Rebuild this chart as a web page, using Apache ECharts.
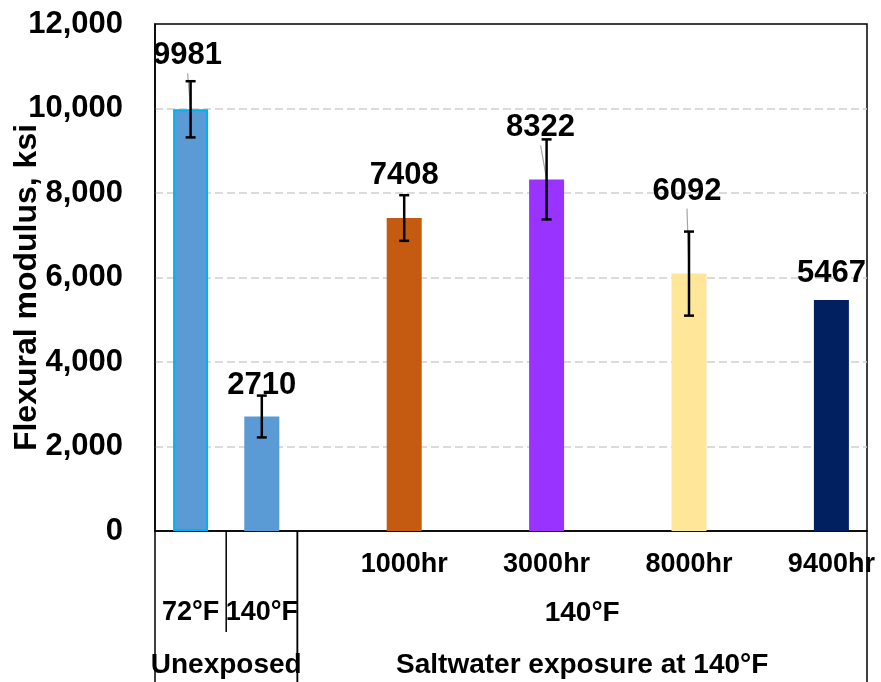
<!DOCTYPE html>
<html><head><meta charset="utf-8">
<script src="https://cdn.jsdelivr.net/npm/echarts@6/dist/echarts.min.js"></script>
<style>html,body{margin:0;padding:0;background:#fff}#c{width:881px;height:682px}</style>
</head><body><div id="c"></div>
<script>
// ---- data ----
const categories = ['72°F', '140°F', '', '1000hr', '', '3000hr', '', '8000hr', '', '9400hr'];
const modulusValues = [9981, 2710, null, 7408, null, 8322, null, 6092, null, 5467];
const errorValues = [665, 495, null, 540, null, 947, null, 995, null, null];
const groupNames = ['Unexposed', 'Saltwater exposure at 140°F'];
const groupSpans = [[0, 1], [2, 9]];
const subGroupNames = ['', '140°F'];
const yAxisTitle = 'Flexural modulus, ksi';
const yMin = 0, yMax = 12000, yStep = 2000;

// ---- styles ----
const FONT = '"Liberation Sans", Arial, sans-serif';
const barColors = ['#5B9BD5', '#5B9BD5', null, '#C55A11', null, '#9933FF', null, '#FFE699', null, '#002060'];
const barBorders = ['#00B0F0', null, null, null, null, null, null, null, null, null];
const labelOffsets = [[-3, -38], [0, -16], null, [0, -27], null, [-6, -36], null, [-2, -67], null, [0, -11]];
const leaderShown = [true, false, false, false, false, true, false, true, false, false];
const LABEL_SIZE = 31;

function groupOf(i) {
  for (let g = 0; g < groupSpans.length; g++) if (i >= groupSpans[g][0] && i <= groupSpans[g][1]) return g;
  return -1;
}

const chart = echarts.init(document.getElementById('c'), null, {renderer: 'canvas'});

const barData = modulusValues.map((v, i) => v == null ? '-' : {
  value: v,
  itemStyle: {color: barColors[i], borderColor: barBorders[i] || barColors[i], borderWidth: barBorders[i] ? 2 : 0},
  label: {offset: labelOffsets[i]}
});

const errData = [];
errorValues.forEach((e, i) => { if (e != null && modulusValues[i] != null) errData.push([i, modulusValues[i], e]); });
const leaderData = [];
modulusValues.forEach((v, i) => { if (v != null && leaderShown[i]) leaderData.push([i, v, labelOffsets[i][0], labelOffsets[i][1]]); });

chart.setOption({
  animation: false,
  backgroundColor: '#fff',
  grid: {left: 155, right: 14, top: 24, bottom: 151, outerBoundsMode: 'none', containLabel: false,
    show: true, borderColor: '#000', borderWidth: 1.5, backgroundColor: 'transparent'},
  xAxis: {
    type: 'category',
    data: categories,
    axisLine: {lineStyle: {color: '#000', width: 1.5}},
    axisTick: {show: false},
    splitLine: {show: false},
    axisLabel: {
      interval: 0, margin: 10, lineHeight: 48,
      fontFamily: FONT, fontSize: 27, fontWeight: 'bold', color: '#000',
      formatter: (val, idx) => subGroupNames[groupOf(idx)] === '' ? '\n' + val : val
    }
  },
  yAxis: {
    type: 'value', min: yMin, max: yMax, interval: yStep,
    name: yAxisTitle, nameLocation: 'middle', nameGap: 112, nameRotate: 90, nameMoveOverlap: false,
    nameTextStyle: {fontFamily: FONT, fontSize: 32, fontWeight: 'bold', color: '#000', padding: [0, 20, 0, 0]},
    axisLine: {show: true, lineStyle: {color: '#000', width: 1.5}},
    axisTick: {show: false},
    axisLabel: {margin: 32, fontFamily: FONT, fontSize: 31, fontWeight: 'bold', color: '#000',
      formatter: v => v.toLocaleString('en-US')},
    splitLine: {show: true, showMinLine: false, showMaxLine: false, lineStyle: {color: '#d0d0d0', width: 1.5, type: [8, 4]}}
  },
  series: [
    {
      type: 'bar', data: barData, barWidth: 35,
      label: {show: true, position: 'top', distance: 0, fontFamily: FONT, fontSize: LABEL_SIZE, fontWeight: 'bold', color: '#000'},
      z: 2
    },
    {
      type: 'custom', data: leaderData, encode: {x: 0, y: 1}, z: 3, silent: true,
      renderItem: function (params, api) {
        const p = api.coord([api.value(0), api.value(1)]);
        const dx = api.value(2), dy = api.value(3);
        return {type: 'line', shape: {x1: p[0] + dx, y1: p[1] + dy + 2, x2: p[0], y2: p[1]},
          style: {stroke: '#a6a6a6', lineWidth: 1.2}};
      }
    },
    {
      type: 'custom', data: errData, encode: {x: 0, y: 1}, z: 5,
      renderItem: function (params, api) {
        const x = api.value(0), v = api.value(1), e = api.value(2);
        const t = api.coord([x, v + e]), b = api.coord([x, v - e]);
        const cw = 5, st = {stroke: '#000', lineWidth: 2.5};
        return {type: 'group', children: [
          {type: 'line', shape: {x1: t[0], y1: t[1], x2: b[0], y2: b[1]}, style: st},
          {type: 'line', shape: {x1: t[0] - cw, y1: t[1], x2: t[0] + cw, y2: t[1]}, style: st},
          {type: 'line', shape: {x1: b[0] - cw, y1: b[1], x2: b[0] + cw, y2: b[1]}, style: st}
        ]};
      }
    }
  ]
});

// ---- multi-level category decoration, positioned from the axis scales ----
const px = i => chart.convertToPixel({xAxisIndex: 0}, i);
const axisY = chart.convertToPixel({yAxisIndex: 0}, 0);
const band = px(1) - px(0);
const H = chart.getHeight();
const lineStyle = {stroke: '#000', lineWidth: 1.5};
const elements = [];
groupSpans.forEach((span, g) => {
  const left = px(span[0]) - band / 2, right = px(span[1]) + band / 2;
  elements.push({type: 'line', shape: {x1: left, y1: axisY, x2: left, y2: H}, style: lineStyle});
  elements.push({type: 'line', shape: {x1: right, y1: axisY, x2: right, y2: H}, style: lineStyle});
  if (subGroupNames[g] === '') {
    for (let i = span[0]; i < span[1]; i++) {
      const xb = (px(i) + px(i + 1)) / 2;
      elements.push({type: 'line', shape: {x1: xb, y1: axisY, x2: xb, y2: axisY + 101}, style: lineStyle});
    }
  } else {
    elements.push({type: 'text', x: (px(span[0]) + px(span[1])) / 2, y: axisY + 82,
      style: {text: subGroupNames[g], align: 'center', verticalAlign: 'middle', font: 'bold 28px ' + FONT, fill: '#000'}});
  }
  elements.push({type: 'text', x: (px(span[0]) + px(span[1])) / 2, y: axisY + 134,
    style: {text: groupNames[g], align: 'center', verticalAlign: 'middle', font: 'bold 28px ' + FONT, fill: '#000'}});
});
chart.setOption({graphic: {elements: elements}});
</script>
</body></html>
